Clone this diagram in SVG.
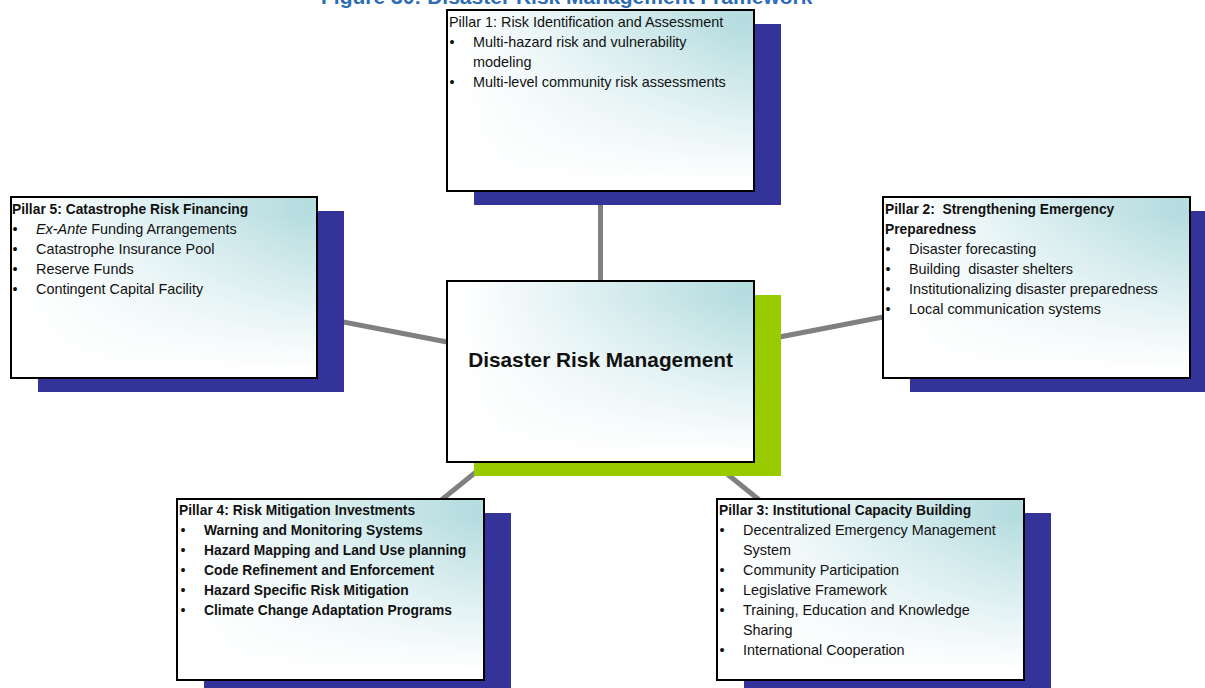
<svg xmlns="http://www.w3.org/2000/svg" width="1205" height="688" viewBox="0 0 1205 688">
<defs>
<linearGradient id="gh" x1="0" y1="0" x2="1" y2="0">
<stop offset="0.05" stop-color="#ffffff"/>
<stop offset="0.55" stop-color="#d6ecee"/>
<stop offset="0.95" stop-color="#b6dde0"/>
</linearGradient>
<linearGradient id="gv" x1="0" y1="0" x2="0" y2="1">
<stop offset="0.1" stop-color="#ffffff" stop-opacity="0"/>
<stop offset="0.6" stop-color="#ffffff" stop-opacity="0.6"/>
<stop offset="0.95" stop-color="#ffffff" stop-opacity="1"/>
</linearGradient>
</defs>
<style>
.sh{fill:#333399}
.gr{fill:#99cc00}
.bx{fill:url(#gh)}
.ov{fill:url(#gv)}
.bd{fill:none;stroke:#000;stroke-width:2}
.t{font-family:"Liberation Sans",Arial,sans-serif;font-size:14.4px;fill:#111}
.b{font-family:"Liberation Sans",Arial,sans-serif;font-size:13.8px;font-weight:bold;fill:#111}
.c{font-family:"Liberation Sans",Arial,sans-serif;font-size:20.8px;font-weight:bold;fill:#111}
.ttl{font-family:"Liberation Sans",Arial,sans-serif;font-size:21px;font-weight:bold;fill:#2e6db4}
.ln{stroke:#808080;stroke-width:5;fill:none}
</style>
<rect width="1205" height="688" fill="#fff"/>
<text class="ttl" x="321" y="4">Figure 30: Disaster Risk Management Framework</text>
<g id="connectors">
<line class="ln" x1="600.5" y1="371.5" x2="600.5" y2="100.5"/>
<line class="ln" x1="600.5" y1="371.5" x2="164" y2="287.5"/>
<line class="ln" x1="600.5" y1="371.5" x2="1036.5" y2="287.5"/>
<line class="ln" x1="600.5" y1="371.5" x2="330.5" y2="589.5"/>
<line class="ln" x1="600.5" y1="371.5" x2="870" y2="589.5"/>
</g>
<g id="pillar1">
<rect class="sh" x="474" y="24" width="307" height="181"/>
<rect class="bx" x="447" y="10" width="307" height="181"/>
<rect class="ov" x="447" y="10" width="307" height="181"/>
<rect class="bd" x="447" y="10" width="307" height="181"/>
<text class="t" x="449" y="27">Pillar 1: Risk Identification and Assessment</text>
<text class="t" x="449.5" y="47">•</text><text class="t" x="473" y="47">Multi-hazard risk and vulnerability</text>
<text class="t" x="473" y="67">modeling</text>
<text class="t" x="449.5" y="87">•</text><text class="t" x="473" y="87">Multi-level community risk assessments</text>
</g>
<g id="pillar5">
<rect class="sh" x="38" y="211" width="306" height="181"/>
<rect class="bx" x="11" y="197" width="306" height="181"/>
<rect class="ov" x="11" y="197" width="306" height="181"/>
<rect class="bd" x="11" y="197" width="306" height="181"/>
<text class="b" x="12" y="214">Pillar 5: Catastrophe Risk Financing</text>
<text class="t" x="12.5" y="234">•</text><text class="t" x="36" y="234"><tspan font-style="italic">Ex-Ante</tspan> Funding Arrangements</text>
<text class="t" x="12.5" y="254">•</text><text class="t" x="36" y="254">Catastrophe Insurance Pool</text>
<text class="t" x="12.5" y="274">•</text><text class="t" x="36" y="274">Reserve Funds</text>
<text class="t" x="12.5" y="294">•</text><text class="t" x="36" y="294">Contingent Capital Facility</text>
</g>
<g id="pillar2">
<rect class="sh" x="910" y="211" width="307" height="181"/>
<rect class="bx" x="883" y="197" width="307" height="181"/>
<rect class="ov" x="883" y="197" width="307" height="181"/>
<rect class="bd" x="883" y="197" width="307" height="181"/>
<text class="b" x="885" y="214">Pillar 2:&#160; Strengthening Emergency</text>
<text class="b" x="885" y="234">Preparedness</text>
<text class="t" x="885.5" y="254">•</text><text class="t" x="909" y="254">Disaster forecasting</text>
<text class="t" x="885.5" y="274">•</text><text class="t" x="909" y="274">Building&#160; disaster shelters</text>
<text class="t" x="885.5" y="294">•</text><text class="t" x="909" y="294">Institutionalizing disaster preparedness</text>
<text class="t" x="885.5" y="314">•</text><text class="t" x="909" y="314">Local communication systems</text>
</g>
<g id="center">
<rect class="gr" x="474" y="295" width="307" height="181"/>
<rect class="bx" x="447" y="281" width="307" height="181"/>
<rect class="ov" x="447" y="281" width="307" height="181"/>
<rect class="bd" x="447" y="281" width="307" height="181"/>
<text class="c" x="600.5" y="367" text-anchor="middle">Disaster Risk Management</text>
</g>
<g id="pillar4">
<rect class="sh" x="204" y="513" width="307" height="181"/>
<rect class="bx" x="177" y="499" width="307" height="181"/>
<rect class="ov" x="177" y="499" width="307" height="181"/>
<rect class="bd" x="177" y="499" width="307" height="181"/>
<text class="b" x="179" y="515">Pillar 4: Risk Mitigation Investments</text>
<text class="t" x="180.5" y="535">•</text><text class="b" x="204" y="535">Warning and Monitoring Systems</text>
<text class="t" x="180.5" y="555">•</text><text class="b" x="204" y="555">Hazard Mapping and Land Use planning</text>
<text class="t" x="180.5" y="575">•</text><text class="b" x="204" y="575">Code Refinement and Enforcement</text>
<text class="t" x="180.5" y="595">•</text><text class="b" x="204" y="595">Hazard Specific Risk Mitigation</text>
<text class="t" x="180.5" y="615">•</text><text class="b" x="204" y="615">Climate Change Adaptation Programs</text>
</g>
<g id="pillar3">
<rect class="sh" x="744" y="513" width="307" height="181"/>
<rect class="bx" x="717" y="499" width="307" height="181"/>
<rect class="ov" x="717" y="499" width="307" height="181"/>
<rect class="bd" x="717" y="499" width="307" height="181"/>
<text class="b" x="719" y="515">Pillar 3: Institutional Capacity Building</text>
<text class="t" x="719.5" y="535">•</text><text class="t" x="743" y="535">Decentralized Emergency Management</text>
<text class="t" x="743" y="555">System</text>
<text class="t" x="719.5" y="575">•</text><text class="t" x="743" y="575">Community Participation</text>
<text class="t" x="719.5" y="595">•</text><text class="t" x="743" y="595">Legislative Framework</text>
<text class="t" x="719.5" y="615">•</text><text class="t" x="743" y="615">Training, Education and Knowledge</text>
<text class="t" x="743" y="635">Sharing</text>
<text class="t" x="719.5" y="655">•</text><text class="t" x="743" y="655">International Cooperation</text>
</g>
</svg>
